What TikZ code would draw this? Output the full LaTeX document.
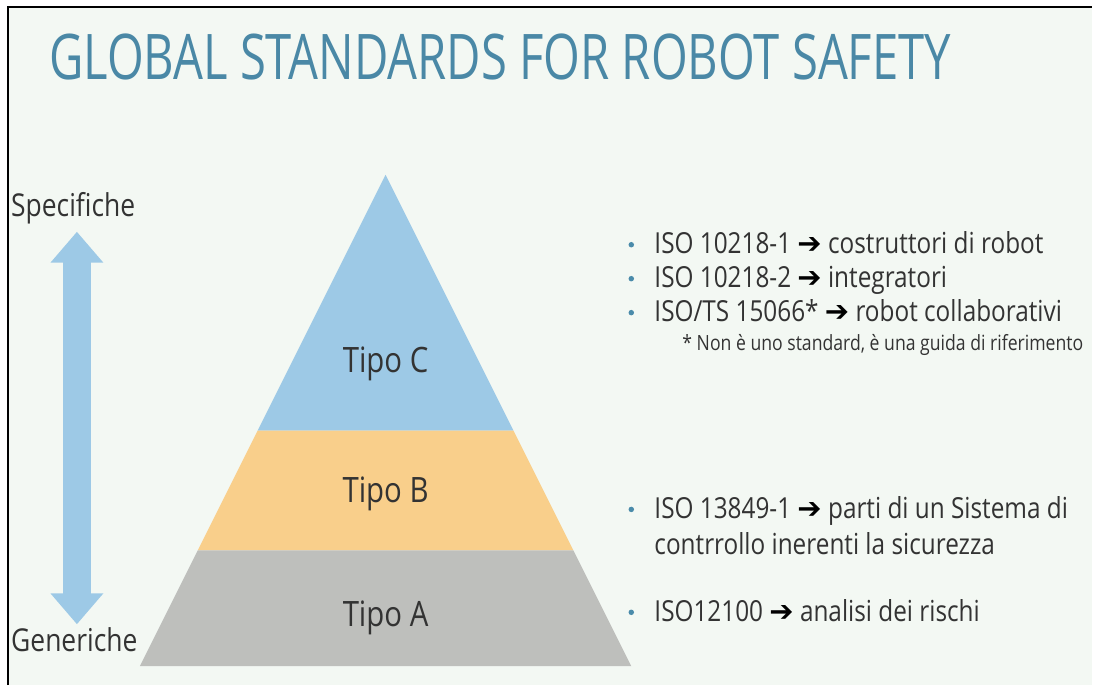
\documentclass[tikz,border=0pt]{standalone}
\usepackage{fontspec}
\setmainfont{Open Sans}[FakeStretch=0.84]
\newfontfamily\titlefont{Open Sans}[FakeStretch=0.75]
\newfontfamily\symfont{DejaVu Sans}
\usetikzlibrary{arrows.meta}

\definecolor{slidebg}{HTML}{F3F8F3}
\definecolor{titleblue}{HTML}{4A88A6}
\definecolor{tipoc}{HTML}{9DC9E6}
\definecolor{tipob}{HTML}{F9CF8B}
\definecolor{tipoa}{HTML}{BEBFBC}
\definecolor{bodytext}{HTML}{333333}
\definecolor{bulletdot}{HTML}{4A8BAA}

\newcommand{\isoarrow}{{\symfont\bfseries\color{black}\char"2794}}

\tikzset{
  levellabel/.style = {font = \fontsize{35}{40}\selectfont, text = bodytext,
    anchor = base, inner sep = 0pt},
  sidelabel/.style = {font = \fontsize{31.5}{34}\selectfont, text = bodytext,
    anchor = base west, inner sep = 0pt},
  itemtext/.style = {font = \fontsize{29}{33}\selectfont, text = bodytext,
    anchor = base west, inner sep = 0pt},
  notetext/.style = {font = \fontsize{21}{23}\selectfont, text = bodytext,
    anchor = base west, inner sep = 0pt},
  bullet/.style = {circle, fill = bulletdot, inner sep = 0pt,
    minimum size = 5.5pt}
}

\begin{document}
\begin{tikzpicture}[x = 1pt, y = -1pt]

  % slide background and frame
  \fill[white] (0, 0) rectangle (1093, 686);
  \fill[slidebg] (8, 7) rectangle (1093, 686);
  \draw[line width = 2.5pt] (8, 686) -- (8, 7) -- (1093, 7);
  \useasboundingbox (0, 0) rectangle (1093, 686);

  \node[anchor = base west, inner sep = 0pt, text = titleblue,
    font = \titlefont\fontsize{63}{66}\selectfont] (title) at (49, 80)
    {GLOBAL STANDARDS FOR ROBOT SAFETY};

  % pyramid
  \fill[tipoc] (386, 175) -- (514, 431) -- (258, 431) -- cycle;
  \fill[tipob] (258, 431) -- (514, 431) -- (574, 551) -- (198, 551) -- cycle;
  \fill[tipoa] (198, 551) -- (574, 551) -- (632, 667) -- (140, 667) -- cycle;

  \node[levellabel] (tipoC) at (386, 373) {Tipo C};
  \node[levellabel] (tipoB) at (386, 503) {Tipo B};
  \node[levellabel] (tipoA) at (386, 627) {Tipo A};

  % scale of the standards
  \node[sidelabel] (spec) at (11, 217) {Specifiche};
  \node[sidelabel] (gen) at (11, 652) {Generiche};
  \coordinate (arrtop) at (77, 232);
  \coordinate (arrbot) at (77, 625);
  \draw[tipoc, line width = 28pt,
    {Triangle[length = 31pt, width = 51pt]}-{Triangle[length = 31pt, width = 51pt]}]
    (arrtop) -- (arrbot);

  % type C standards
  \foreach \y [count = \i] in {254, 288, 322} {
    \node[bullet] (dotC\i) at (632, \y - 9) {};
  }
  \node[itemtext] (isoC1) at (655, 254)
    {ISO 10218-1 \isoarrow{} costruttori di robot};
  \node[itemtext] (isoC2) at (655, 288)
    {ISO 10218-2 \isoarrow{} integratori};
  \node[itemtext] (isoC3) at (655, 322)
    {ISO/TS 15066* \isoarrow{} robot collaborativi};
  \node[notetext] (note) at (683, 351)
    {* Non è uno standard, è una guida di riferimento};

  % type B standards
  \node[bullet] (dotB) at (632, 510) {};
  \node[itemtext] (isoB1) at (655, 519)
    {ISO 13849-1 \isoarrow{} parti di un Sistema di};
  \node[itemtext] (isoB2) at (655, 555)
    {contrrollo inerenti la sicurezza};

  % type A standards
  \node[bullet] (dotA) at (632, 613) {};
  \node[itemtext] (isoA) at (655, 622)
    {ISO12100 \isoarrow{} analisi dei rischi};

\end{tikzpicture}
\end{document}
